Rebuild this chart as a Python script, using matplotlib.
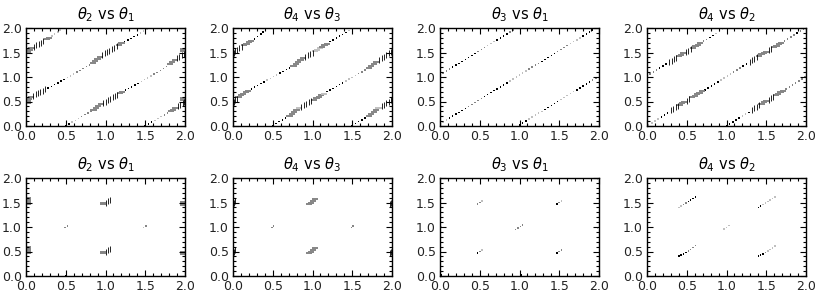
import matplotlib
matplotlib.use("Agg")
import matplotlib.pyplot as plt
from matplotlib.ticker import MultipleLocator

# colour codes used in the *_c strings
GRAY = {'k': '#000000', 'g': '#858585', 'l': '#c0c0c0'}

titles = [r'$\theta_2$ vs $\theta_1$', r'$\theta_4$ vs $\theta_3$',
          r'$\theta_3$ vs $\theta_1$', r'$\theta_4$ vs $\theta_2$']
tick_vals = [0.0, 0.5, 1.0, 1.5, 2.0]

# ---------------- top row ----------------
# panel 1: theta2 vs theta1
p1_dot_x = [0.28, 0.32, 0.36, 0.40, 0.44, 0.48, 0.52, 0.56, 0.60, 0.64, 0.68, 0.72, 0.76, 0.80,
            1.24, 1.28, 1.32, 1.36, 1.40, 1.44, 1.48, 1.52,
            0.50, 0.54, 0.58, 0.62, 0.66, 0.70, 0.74, 0.78, 0.82,
            1.25, 1.29, 1.33, 1.37, 1.41, 1.45, 1.49, 1.53, 1.57, 1.61, 1.65, 1.69, 1.73, 1.77,
            0.33, 0.36, 0.40, 0.43, 0.46,
            1.50, 1.54, 1.58, 1.62, 1.66, 1.70, 1.74, 1.78]
p1_dot_y = [0.78, 0.81, 0.85, 0.88, 0.92, 0.95, 0.99, 1.02, 1.06, 1.10, 1.13, 1.17, 1.21, 1.25,
            1.72, 1.76, 1.79, 1.83, 1.86, 1.90, 1.94, 1.97,
            0.01, 0.04, 0.08, 0.11, 0.15, 0.19, 0.23, 0.26, 0.30,
            0.73, 0.77, 0.80, 0.84, 0.87, 0.91, 0.95, 0.98, 1.02, 1.06, 1.09, 1.13, 1.17, 1.21,
            1.84, 1.88, 1.92, 1.96, 1.99,
            0.01, 0.04, 0.08, 0.11, 0.15, 0.19, 0.22, 0.26]
p1_dot_c = 'kkkkkklllggggg kkkkklll kklllgggg kkkkkllllggggg lllll kkklllgg'
p1_hatch_x = [0.09, 0.12, 0.15, 0.18, 0.21, 0.24, 0.96, 0.99, 1.02, 1.05, 1.08, 1.11, 1.14,
              0.97, 1.00, 1.03, 1.06, 1.09, 1.12, 1.15, 1.90, 1.93, 1.96, 1.99,
              0.10, 0.13, 0.16, 0.19, 0.22, 1.91, 1.94, 1.97, 1.99]
p1_hatch_y = [0.62, 0.645, 0.67, 0.695, 0.72, 0.745, 1.45, 1.48, 1.51, 1.54, 1.57, 1.60, 1.63,
              0.47, 0.50, 0.53, 0.56, 0.59, 0.62, 0.64, 1.38, 1.41, 1.44, 1.47,
              1.62, 1.65, 1.68, 1.70, 1.73, 0.40, 0.43, 0.46, 0.49]
p1_bar_x = [0.02, 0.03, 0.04, 0.06, 0.84, 0.87, 0.90, 0.93, 1.17, 1.20,
            0.85, 0.88, 0.91, 0.94, 1.18, 1.21, 1.81, 1.84, 1.87, 1.98, 1.98,
            0.02, 0.03, 0.05, 0.07, 0.26, 0.29, 1.82, 1.85, 1.88, 1.98, 1.98]
p1_bar_y = [0.47, 0.51, 0.55, 0.59, 1.29, 1.33, 1.37, 1.41, 1.66, 1.69,
            0.33, 0.37, 0.41, 0.44, 0.67, 0.70, 1.26, 1.30, 1.34, 1.53, 1.57,
            1.49, 1.53, 1.56, 1.59, 1.77, 1.80, 0.30, 0.33, 0.37, 0.54, 0.58]
p1_bar_c = 'g' * 32

# panel 2: theta4 vs theta3
p2_dot_x = [0.23, 0.27, 0.31, 0.35, 0.39, 0.43, 0.47, 0.51, 0.55, 0.59, 0.63, 0.67, 0.71,
            1.22, 1.26, 1.30, 1.34, 1.38, 1.42, 1.46, 1.50,
            0.27, 0.31, 0.35, 0.38, 0.41, 0.44,
            0.50, 0.54, 0.58, 0.62, 0.66,
            1.18, 1.22, 1.26, 1.30, 1.34, 1.38, 1.42, 1.46, 1.50, 1.54, 1.58, 1.62, 1.66,
            1.50, 1.54, 1.58, 1.62, 1.66]
p2_dot_y = [0.76, 0.80, 0.83, 0.87, 0.90, 0.94, 0.97, 1.01, 1.04, 1.08, 1.11, 1.15, 1.18,
            1.72, 1.76, 1.80, 1.84, 1.87, 1.91, 1.95, 1.99,
            1.78, 1.83, 1.88, 1.92, 1.96, 1.99,
            0.01, 0.05, 0.09, 0.12, 0.16,
            0.70, 0.74, 0.77, 0.81, 0.85, 0.88, 0.92, 0.96, 0.99, 1.03, 1.07, 1.10, 1.14,
            0.01, 0.05, 0.09, 0.12, 0.16]
p2_dot_c = 'kkkkkllllkkkk kkkkkkll kkkkll kkkkk kkkkkkllllggg kkkkk'
p2_hatch_x = [0.01, 0.03, 0.05, 0.91, 0.94, 0.97, 1.00, 0.01, 0.03, 0.05, 0.08, 0.11,
              0.86, 0.89, 0.92, 0.95, 0.98, 1.84, 1.87, 1.90, 1.93, 1.96, 1.99,
              1.87, 1.90, 1.93, 1.96, 1.99]
p2_hatch_y = [0.50, 0.53, 0.56, 1.41, 1.44, 1.47, 1.50, 1.50, 1.53, 1.56, 1.59, 1.62,
              0.39, 0.42, 0.45, 0.48, 0.51, 1.35, 1.38, 1.41, 1.44, 1.48, 1.51,
              0.40, 0.43, 0.47, 0.50, 0.54]
p2_bar_x = [0.07, 0.10, 0.13, 0.16, 0.19, 0.76, 0.79, 0.82, 0.85, 0.88, 1.03, 1.06, 1.09, 1.12, 1.15, 1.18,
            0.14, 0.17, 0.20, 0.23,
            0.71, 0.74, 0.77, 0.80, 0.83, 1.02, 1.05, 1.08, 1.11, 1.14, 1.71, 1.74, 1.77, 1.80,
            1.71, 1.74, 1.77, 1.80, 1.83]
p2_bar_y = [0.60, 0.63, 0.66, 0.69, 0.72, 1.22, 1.26, 1.30, 1.34, 1.38, 1.53, 1.56, 1.59, 1.62, 1.65, 1.68,
            1.65, 1.68, 1.71, 1.74,
            0.21, 0.25, 0.29, 0.33, 0.36, 0.54, 0.57, 0.60, 0.63, 0.66, 1.19, 1.23, 1.27, 1.31,
            0.21, 0.25, 0.29, 0.33, 0.36]
p2_bar_c = 'gggggggggglllggg gggg gggglgggglgggg ggggl'

# panel 3: theta3 vs theta1
p3_dot_x = [0.00, 0.04, 0.08, 0.12, 0.16, 0.20, 0.24, 0.28, 0.32, 0.36, 0.40, 0.44, 0.48,
            0.52, 0.56, 0.60, 0.64, 0.68, 0.72, 0.76, 0.80, 0.84, 0.88, 0.92, 0.96,
            0.00, 0.04, 0.08, 0.12, 0.16, 0.20, 0.24, 0.28, 0.32, 0.36, 0.40, 0.44, 0.48,
            0.52, 0.56, 0.60, 0.64, 0.68, 0.72, 0.76, 0.80, 0.84, 0.88, 0.92, 0.96,
            1.00, 1.04, 1.08, 1.12, 1.16, 1.20, 1.24, 1.28, 1.32, 1.36, 1.40, 1.44, 1.48,
            1.52, 1.56, 1.60, 1.64, 1.68, 1.72, 1.76, 1.80, 1.84, 1.88, 1.92, 1.96,
            1.00, 1.04, 1.08, 1.12, 1.16, 1.20, 1.24, 1.28, 1.32, 1.36, 1.40, 1.44, 1.48,
            1.52, 1.56, 1.60, 1.64, 1.68, 1.72, 1.76, 1.80, 1.84, 1.88, 1.92, 1.96]
p3_dot_y = [1.04, 1.08, 1.12, 1.16, 1.20, 1.24, 1.28, 1.32, 1.36, 1.40, 1.44, 1.48, 1.52,
            1.56, 1.60, 1.64, 1.68, 1.72, 1.76, 1.80, 1.84, 1.88, 1.92, 1.96, 2.00,
            0.04, 0.08, 0.12, 0.16, 0.20, 0.24, 0.28, 0.32, 0.36, 0.40, 0.44, 0.48, 0.52,
            0.56, 0.60, 0.64, 0.68, 0.72, 0.76, 0.80, 0.84, 0.88, 0.92, 0.96, 1.00,
            1.04, 1.08, 1.12, 1.16, 1.20, 1.24, 1.28, 1.32, 1.36, 1.40, 1.44, 1.48, 1.52,
            1.56, 1.60, 1.64, 1.68, 1.72, 1.76, 1.80, 1.84, 1.88, 1.92, 1.96, 2.00,
            0.02, 0.06, 0.10, 0.14, 0.18, 0.22, 0.26, 0.30, 0.34, 0.38, 0.42, 0.46, 0.50,
            0.54, 0.58, 0.62, 0.66, 0.70, 0.74, 0.78, 0.82, 0.86, 0.90, 0.94, 0.98]
p3_dot_c = ('ggggkkkkkkkkggglllkkkkggg'
            'lllkkkkkkgggggkkkkkkkkllllllggggkkkkkggggllllkkkkk'
            'kkklllllkkkkklllllkkkkkgg')
p3_hatch_x, p3_hatch_y = [], []
p3_bar_x, p3_bar_y, p3_bar_c = [], [], ''

# panel 4: theta4 vs theta2
p4_dot_x = [0.00, 0.04, 0.08, 0.12, 0.16, 0.20, 0.24, 0.71, 0.75, 0.79, 0.83, 0.87, 0.91, 0.95, 0.98,
            0.02, 0.06, 0.10, 0.14, 0.18, 0.22, 0.26,
            0.73, 0.77, 0.81, 0.85, 0.89, 0.93, 0.97, 1.01, 1.05, 1.09, 1.13, 1.17, 1.21, 1.25,
            1.73, 1.77, 1.81, 1.85, 1.89, 1.93, 1.97,
            1.00, 1.04, 1.08, 1.12, 1.16, 1.20, 1.24, 1.28,
            1.75, 1.79, 1.83, 1.87, 1.91, 1.95, 1.99]
p4_dot_y = [1.02, 1.06, 1.10, 1.14, 1.18, 1.22, 1.26, 1.73, 1.77, 1.81, 1.85, 1.89, 1.93, 1.97, 2.00,
            0.02, 0.06, 0.10, 0.14, 0.18, 0.22, 0.26,
            0.74, 0.78, 0.82, 0.86, 0.90, 0.94, 0.98, 1.02, 1.06, 1.10, 1.14, 1.18, 1.22, 1.26,
            1.74, 1.78, 1.82, 1.86, 1.90, 1.94, 1.98,
            0.01, 0.04, 0.08, 0.12, 0.16, 0.20, 0.24, 0.28,
            0.76, 0.80, 0.84, 0.88, 0.92, 0.96, 1.00]
p4_dot_c = 'ggggkkkggkkllll llllkkk kkkkkllllgggkk ggggkgg kkkkkllk ggggggg'
p4_hatch_x = [0.28, 0.31, 0.34, 0.37, 0.49, 0.52, 0.55, 0.30, 0.33, 0.36, 0.39, 0.50, 0.53,
              1.29, 1.32, 1.35, 1.38, 1.53, 1.56, 1.32, 1.35, 1.38, 1.41, 1.53, 1.56, 1.59]
p4_hatch_y = [1.30, 1.33, 1.36, 1.39, 1.51, 1.54, 1.57, 0.32, 0.35, 0.38, 0.41, 0.52, 0.55,
              1.31, 1.34, 1.37, 1.40, 1.55, 1.58, 0.33, 0.36, 0.39, 0.42, 0.54, 0.57, 0.60]
p4_bar_x = [0.40, 0.43, 0.46, 0.58, 0.61, 0.64, 0.67, 0.41, 0.44, 0.47, 0.57, 0.60, 0.63, 0.66, 0.69,
            1.41, 1.44, 1.47, 1.50, 1.60, 1.63, 1.66, 1.69, 1.44, 1.47, 1.50, 1.62, 1.65, 1.68, 1.71]
p4_bar_y = [1.42, 1.45, 1.48, 1.60, 1.63, 1.66, 1.69, 0.43, 0.46, 0.49, 0.59, 0.62, 0.65, 0.68, 0.71,
            1.43, 1.46, 1.49, 1.52, 1.61, 1.64, 1.67, 1.70, 0.45, 0.48, 0.51, 0.63, 0.66, 0.69, 0.72]
p4_bar_c = 'g' * 30

# ---------------- bottom row ----------------
# panel 5: theta2 vs theta1
p5_dot_x = [0.49, 0.52, 1.48, 1.51, 0.50]
p5_dot_y = [0.99, 1.02, 0.99, 1.02, 0.01]
p5_dot_c = 'gglgk'
p5_hatch_x = [1.00, 1.03, 1.06, 1.00, 1.03, 1.06]
p5_hatch_y = [0.50, 0.53, 0.55, 1.50, 1.53, 1.55]
p5_bar_x = [0.02, 0.02, 0.02, 0.02, 0.02, 0.02, 0.02, 0.02, 0.97, 0.97, 0.97, 0.97,
            1.97, 1.97, 1.97, 1.97, 1.97]
p5_bar_y = [0.47, 0.51, 0.55, 0.59, 1.47, 1.51, 1.55, 1.59, 0.46, 0.50, 1.46, 1.50,
            0.44, 0.48, 1.44, 1.48, 1.52]
p5_bar_c = 'g' * 17

# panel 6: theta4 vs theta3
p6_dot_x = [0.49, 0.51, 1.49, 1.51]
p6_dot_y = [0.99, 1.02, 0.99, 1.02]
p6_dot_c = 'gggg'
p6_hatch_x = [0.01, 0.03, 0.01, 0.03, 1.97, 1.99, 1.97, 1.99]
p6_hatch_y = [0.50, 0.53, 1.50, 1.53, 0.47, 0.50, 1.47, 1.50]
p6_bar_x = [0.96, 0.98, 1.01, 1.03, 0.96, 0.98, 1.01, 1.03]
p6_bar_y = [0.46, 0.50, 0.54, 0.57, 1.46, 1.50, 1.54, 1.57]
p6_bar_c = 'g' * 8

# panel 7: theta3 vs theta1
p7_dot_x = [0.47, 0.50, 0.53, 0.47, 0.50, 0.53, 0.95, 0.98, 1.01, 1.04,
            1.47, 1.50, 1.53, 1.47, 1.50, 1.53, 0.01, 1.02, 0.01, 1.98, 1.98]
p7_dot_y = [0.47, 0.50, 0.53, 1.47, 1.50, 1.53, 0.95, 0.98, 1.01, 1.04,
            0.47, 0.50, 0.53, 1.47, 1.50, 1.53, 0.02, 0.02, 1.00, 0.97, 1.98]
p7_dot_c = 'kglggl gggg kgg kgl kklll'
p7_hatch_x, p7_hatch_y = [], []
p7_bar_x, p7_bar_y, p7_bar_c = [], [], ''

# panel 8: theta4 vs theta2
p8_dot_x = [0.40, 0.43, 0.46, 0.49, 0.52, 0.55, 0.58, 0.61,
            0.40, 0.43, 0.46, 0.49, 0.52, 0.55, 0.58, 0.61,
            0.97, 1.00, 1.03,
            1.40, 1.43, 1.46, 1.49, 1.52, 1.55, 1.58, 1.61,
            1.40, 1.43, 1.46, 1.49, 1.52, 1.55, 1.58, 1.61]
p8_dot_y = [1.40, 1.43, 1.46, 1.49, 1.52, 1.55, 1.58, 1.61,
            0.41, 0.43, 0.45, 0.48, 0.51, 0.54, 0.58, 0.62,
            0.96, 0.99, 1.03,
            1.40, 1.43, 1.46, 1.49, 1.52, 1.55, 1.58, 1.61,
            0.41, 0.43, 0.45, 0.48, 0.51, 0.54, 0.57, 0.61]
p8_dot_c = 'llggkkkk kkkkgggg lll kkllllll kkkgllll'
p8_hatch_x, p8_hatch_y = [], []
p8_bar_x, p8_bar_y, p8_bar_c = [], [], ''

panels = [
    (p1_dot_x, p1_dot_y, p1_dot_c, p1_hatch_x, p1_hatch_y, p1_bar_x, p1_bar_y, p1_bar_c),
    (p2_dot_x, p2_dot_y, p2_dot_c, p2_hatch_x, p2_hatch_y, p2_bar_x, p2_bar_y, p2_bar_c),
    (p3_dot_x, p3_dot_y, p3_dot_c, p3_hatch_x, p3_hatch_y, p3_bar_x, p3_bar_y, p3_bar_c),
    (p4_dot_x, p4_dot_y, p4_dot_c, p4_hatch_x, p4_hatch_y, p4_bar_x, p4_bar_y, p4_bar_c),
    (p5_dot_x, p5_dot_y, p5_dot_c, p5_hatch_x, p5_hatch_y, p5_bar_x, p5_bar_y, p5_bar_c),
    (p6_dot_x, p6_dot_y, p6_dot_c, p6_hatch_x, p6_hatch_y, p6_bar_x, p6_bar_y, p6_bar_c),
    (p7_dot_x, p7_dot_y, p7_dot_c, p7_hatch_x, p7_hatch_y, p7_bar_x, p7_bar_y, p7_bar_c),
    (p8_dot_x, p8_dot_y, p8_dot_c, p8_hatch_x, p8_hatch_y, p8_bar_x, p8_bar_y, p8_bar_c),
]


def colours(code):
    return [GRAY[ch] for ch in code.replace(' ', '')]


fig = plt.figure(figsize=(8.17, 3.0), dpi=100)
W, H = 817.0, 300.0
lefts = [26, 233, 440, 647]   # pixel positions of the axes
bottoms = [174, 24]

for i, (dx, dy, dc, hx, hy, bx, by, bc) in enumerate(panels):
    row, col = divmod(i, 4)
    ax = fig.add_axes([lefts[col] / W, bottoms[row] / H, 159 / W, 98 / H])
    ax.scatter(dx, dy, s=1.2, c=colours(dc), marker='s', linewidths=0)
    if hx:
        ax.plot(hx, hy, ls='none', marker='|', color='k', ms=4, mew=0.6)
    if bx:
        ax.scatter(bx, by, s=20, c=colours(bc), marker='_', linewidths=1.4)
    ax.set_xlim(0, 2)
    ax.set_ylim(0, 2)
    ax.set_xticks(tick_vals)
    ax.set_yticks(tick_vals)
    ax.xaxis.set_minor_locator(MultipleLocator(0.1))
    ax.yaxis.set_minor_locator(MultipleLocator(0.1))
    ax.tick_params(which='both', direction='in', top=True, right=True,
                   labelsize=9, labelcolor='#222222', width=0.8)
    ax.tick_params(which='major', length=4, pad=3)
    ax.tick_params(which='minor', length=2)
    for sp in ax.spines.values():
        sp.set_linewidth(1.0)
    ax.set_title(titles[col], fontsize=10.5, pad=6)

fig.savefig('out.png', dpi=100)
